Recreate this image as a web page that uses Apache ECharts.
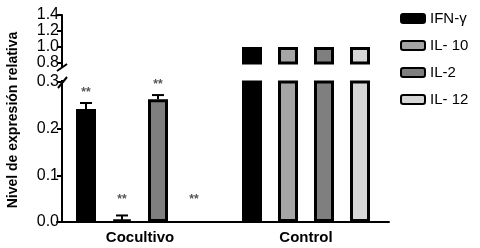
<!DOCTYPE html>
<html>
<head>
<meta charset="utf-8">
<script src="https://cdn.jsdelivr.net/npm/echarts@6/dist/echarts.min.js"></script>
<style>
  html, body { margin: 0; padding: 0; background: #fff; }
  #chart { width: 480px; height: 248px; }
</style>
</head>
<body>
<div id="chart"></div>
<script>
var chart = echarts.init(document.getElementById('chart'));

// datos
var categories = ['Cocultivo', 'Control'];
var cytokines = ['IFN-γ', 'IL- 10', 'IL-2', 'IL- 12'];
var colors = ['#000000', '#a5a5a5', '#7f7f7f', '#d6d6d6'];
var cocultivo = [0.242, 0.005, 0.263, 0];
var control = [1.0, 1.0, 1.0, 1.0];
var cocultivoErr = [0.013, 0.009, 0.009, 0];
var controlErr = [0, 0, 0, 0];
var cocultivoSig = ['**', '**', '**', '**'];
var controlSig = ['', '', '', ''];
// eje roto
var topTicks = [0.8, 1.0, 1.2, 1.4];
var bottomTicks = [0.0, 0.1, 0.2, 0.3];

var font = "'Liberation Sans', Arial, sans-serif";
var gridLeft = 57, gridWidth = 332, axisShift = 5;
var barW = 20, barStep = 36;

var series = [];
cytokines.forEach(function (name, i) {
    var vals = [cocultivo[i], control[i]];
    // parte inferior (sin barra para valor cero)
    series.push({
        name: name, type: 'bar', xAxisIndex: 1, yAxisIndex: 1,
        barWidth: barW, barGap: '80%',
        itemStyle: { color: colors[i], borderColor: '#000', borderWidth: 3 },
        data: vals.map(function (v) { return v > 0 ? v : '-'; })
    });
    // parte superior (solo valores dentro del rango)
    series.push({
        name: name, type: 'bar', xAxisIndex: 0, yAxisIndex: 0,
        barWidth: barW, barGap: '80%',
        itemStyle: { color: colors[i], borderColor: '#000', borderWidth: 3 },
        data: vals.map(function (v) { return v >= topTicks[0] ? v : '-'; })
    });
});

// barras de error y asteriscos
cytokines.forEach(function (name, i) {
    series.push({
        type: 'custom', xAxisIndex: 1, yAxisIndex: 1, z: 5,
        data: [
            [0, cocultivo[i], cocultivoErr[i]],
            [1, control[i], controlErr[i]]
        ],
        renderItem: function (params, api) {
            var dx = (i - 1.5) * barStep;
            var v = api.value(1), e = api.value(2);
            var p0 = api.coord([api.value(0), v]);
            var p1 = api.coord([api.value(0), v + e]);
            var base = api.coord([api.value(0), 0]);
            var x = p0[0] + dx;
            var children = [];
            if (e > 0) {
                children.push({ type: 'line', shape: { x1: x, y1: p0[1], x2: x, y2: p1[1] }, style: { stroke: '#000', lineWidth: 2 } });
                children.push({ type: 'line', shape: { x1: x - 6, y1: p1[1], x2: x + 6, y2: p1[1] }, style: { stroke: '#000', lineWidth: 2 } });
            }
            var label = params.dataIndex === 0 ? cocultivoSig[i] : controlSig[i];
            if (label) {
                children.push({
                    type: 'text',
                    style: {
                        x: x, y: Math.min(p1[1] - 10, base[1] - 22),
                        text: label, textAlign: 'center', textVerticalAlign: 'middle',
                        fill: '#555', font: 'bold 12px ' + font
                    }
                });
            }
            return { type: 'group', children: children };
        }
    });
});

var axisLineStyle = { color: '#000', width: 2 };
var yLabel = { fontFamily: font, fontSize: 16, color: '#000', margin: 3,
    formatter: function (v) { return v.toFixed(1); } };

var option = {
    animation: false,
    grid: [
        { left: gridLeft, top: 15, width: gridWidth, height: 48 },
        { left: gridLeft, top: 82, width: gridWidth, height: 140 }
    ],
    legend: {
        orient: 'vertical', left: 395, top: 6,
        itemWidth: 24, itemHeight: 9, itemGap: 12,
        data: cytokines,
        textStyle: { fontFamily: font, fontSize: 15, color: '#000' }
    },
    xAxis: [
        { type: 'category', gridIndex: 0, data: categories, show: false },
        {
            type: 'category', gridIndex: 1, data: categories,
            axisLine: { lineStyle: axisLineStyle },
            axisTick: { alignWithLabel: true, length: 5, lineStyle: axisLineStyle },
            axisLabel: { fontFamily: font, fontSize: 15, fontWeight: 'bold', color: '#000', margin: 8 }
        }
    ],
    yAxis: [
        {
            type: 'value', gridIndex: 0, min: topTicks[0], max: topTicks[3], interval: 0.2,
            offset: -axisShift,
            axisLine: { show: true, lineStyle: axisLineStyle },
            axisTick: { show: true, length: 5, lineStyle: axisLineStyle },
            splitLine: { show: false },
            axisLabel: yLabel
        },
        {
            type: 'value', gridIndex: 1, min: bottomTicks[0], max: bottomTicks[3], interval: 0.1,
            offset: -axisShift,
            axisLine: { show: true, lineStyle: axisLineStyle },
            axisTick: { show: true, length: 5, lineStyle: axisLineStyle },
            splitLine: { show: false },
            axisLabel: yLabel
        }
    ],
    series: series
};
chart.setOption(option);

// marcas de corte del eje y título
var ax = gridLeft + axisShift;
var yTopBottom = chart.convertToPixel({ yAxisIndex: 0 }, topTicks[0]);
var yBotTop = chart.convertToPixel({ yAxisIndex: 1 }, bottomTicks[3]);
var br = { stroke: '#000', lineWidth: 2 };
chart.setOption({
    graphic: [
        { type: 'line', shape: { x1: ax, y1: yTopBottom, x2: ax, y2: yTopBottom + 4 }, style: br },
        { type: 'line', shape: { x1: ax - 5, y1: yTopBottom + 8, x2: ax + 5, y2: yTopBottom + 1 }, style: br },
        { type: 'line', shape: { x1: ax, y1: yBotTop - 2, x2: ax, y2: yBotTop }, style: br },
        { type: 'line', shape: { x1: ax - 4, y1: yBotTop + 6, x2: ax + 5, y2: yBotTop - 5 }, style: br },
        {
            type: 'text', x: 13, y: 120, rotation: Math.PI / 2,
            style: { text: 'Nivel de expresión relativa', textAlign: 'center', textVerticalAlign: 'middle',
                fill: '#000', font: 'bold 14px ' + font }
        }
    ]
});
</script>
</body>
</html>
